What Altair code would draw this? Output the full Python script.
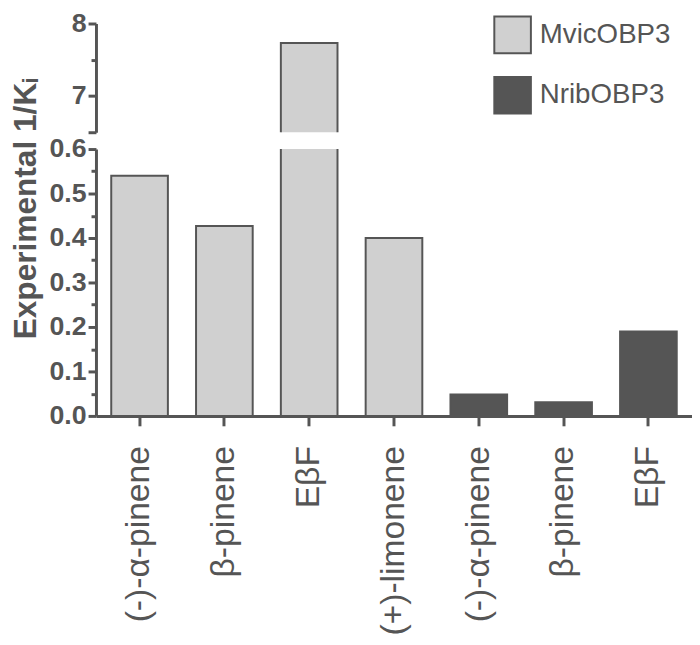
import json
import altair as alt
import pandas as pd

# ---- data ----
labels = ["(-)-α-pinene", "β-pinene", "EβF", "(+)-limonene", "(-)-α-pinene", "β-pinene", "EβF"]
proteins = ["MvicOBP3", "MvicOBP3", "MvicOBP3", "MvicOBP3", "NribOBP3", "NribOBP3", "NribOBP3"]
values = [0.54, 0.427, 7.73, 0.40, 0.048, 0.031, 0.19]

lower_ticks = [0.0, 0.1, 0.2, 0.3, 0.4, 0.5, 0.6]
lower_minor = [0.05, 0.15, 0.25, 0.35, 0.45, 0.55]
upper_ticks = [7, 8]
upper_minor = [7.5]
upper_cap = [6.5]

series = ["MvicOBP3", "NribOBP3"]
colors = ["#d0d0d0", "#555555"]

df = pd.DataFrame({"idx": list(range(len(labels))), "label": labels,
                   "protein": proteins, "value": values})

GRAY = "#555555"
FONT = "Liberation Sans"
W = 603
label_expr = json.dumps(labels) + "[datum.value]"

xscale = alt.Scale(paddingInner=0.332, paddingOuter=0.18)

color = alt.Color(
    "protein:N",
    scale=alt.Scale(domain=series, range=colors),
    legend=alt.Legend(
        title=None, orient="none", legendX=402, legendY=-8, padding=0,
        symbolType="square", symbolSize=1369, symbolStrokeColor=GRAY,
        symbolStrokeWidth=2, symbolOpacity=1, labelFontSize=28, labelColor=GRAY,
        labelFont=FONT, labelOffset=8, rowPadding=16,
    ),
)

base = alt.Chart(df)


def tick_layer(scale, vals, size):
    """Invisible layer whose only purpose is an extra set of axis ticks."""
    return base.mark_bar(opacity=0, clip=True).encode(
        y=alt.Y("value:Q", scale=scale,
                axis=alt.Axis(orient="left", values=vals, labels=False,
                              domain=False, tickSize=size, title=None)),
    )


# ---------- upper panel (broken axis 6.5 .. 8) ----------
up_scale = alt.Scale(domain=[6.5, 8], nice=False, zero=False)
upper_bars = base.mark_bar(clip=True, stroke=GRAY, strokeWidth=2).encode(
    x=alt.X("idx:O", scale=xscale, axis=None),
    y=alt.Y("value:Q", scale=up_scale,
            axis=alt.Axis(orient="left", values=upper_ticks, format="d",
                          labelOverlap=False, title=None, tickSize=8, labelPadding=2)),
    color=color,
)
upper = alt.layer(
    upper_bars, tick_layer(up_scale, upper_minor, 5), tick_layer(up_scale, upper_cap, 8)
).resolve_axis(y="independent").properties(width=W, height=110)

# ---------- lower panel (0 .. 0.6) ----------
lo_scale = alt.Scale(domain=[0, 0.6], nice=False)
lower_bars = base.mark_bar(clip=True, stroke=GRAY, strokeWidth=2).encode(
    x=alt.X("idx:O", scale=xscale,
            axis=alt.Axis(title=None, labelExpr=label_expr, labelAngle=270,
                          labelFontSize=34, labelFontWeight="normal", labelLimit=400,
                          tickSize=10, labelPadding=20)),
    y=alt.Y("value:Q", scale=lo_scale,
            axis=alt.Axis(orient="left", values=lower_ticks, format=".1f",
                          labelOverlap=False,
                          title="Experimental 1/Kᵢ", titleFontSize=32,
                          titleFontWeight="bold", titleY=60, titleX=-54,
                          tickSize=8, labelPadding=2)),
    color=alt.Color("protein:N", scale=alt.Scale(domain=series, range=colors), legend=None),
)
lower = alt.layer(
    lower_bars, tick_layer(lo_scale, lower_minor, 5)
).resolve_axis(y="independent").properties(width=W, height=270)

chart = alt.vconcat(upper, lower, spacing=17, bounds="flush").resolve_scale(
    y="independent", x="shared", color="shared"
).properties(
    padding={"left": 1, "top": -2, "right": 0, "bottom": 0}
).configure_axis(
    domainColor=GRAY, domainWidth=3, tickColor=GRAY, tickWidth=3,
    labelColor=GRAY, titleColor=GRAY, labelFont=FONT, titleFont=FONT,
    labelFontSize=27, labelFontWeight="bold", grid=False,
).configure_view(stroke=None)

chart.save("out.html", embed_options={"renderer": "svg", "actions": False})
